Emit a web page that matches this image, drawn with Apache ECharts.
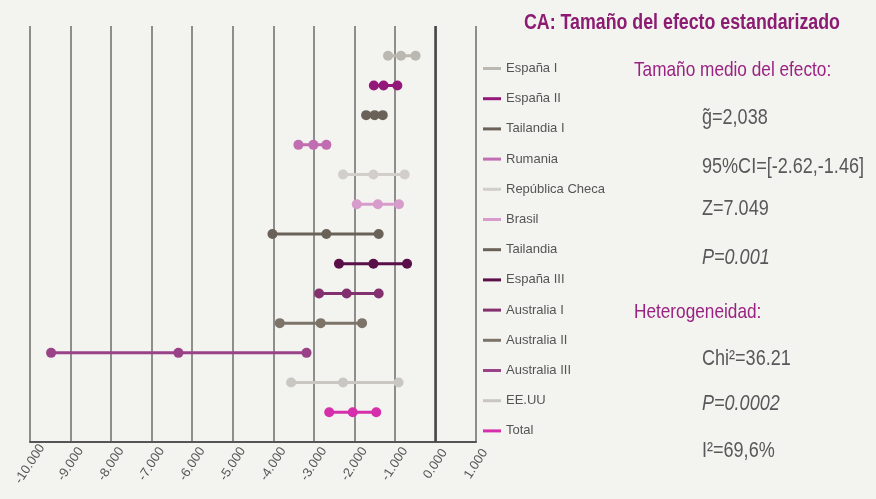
<!DOCTYPE html>
<html>
<head>
<meta charset="utf-8">
<script src="https://cdn.jsdelivr.net/npm/echarts@6/dist/echarts.min.js"></script>
<style>
html,body{margin:0;padding:0;background:#f3f3ef;}
#c{width:876px;height:499px;}
</style>
</head>
<body>
<div id="c"></div>
<script>
const studies = ['España I','España II','Tailandia I','Rumania','República Checa','Brasil','Tailandia','España III','Australia I','Australia II','Australia III','EE.UU','Total'];
const lower  = [-1.17,-1.52,-1.71,-3.38,-2.28,-1.94,-4.02,-2.38,-2.87,-3.84,-9.48,-3.56,-2.62];
const effect = [-0.85,-1.28,-1.50,-3.01,-1.53,-1.42,-2.69,-1.53,-2.19,-2.83,-6.34,-2.28,-2.04];
const upper  = [-0.49,-0.94,-1.30,-2.69,-0.76,-0.90,-1.40,-0.70,-1.40,-1.81,-3.18,-0.91,-1.46];
const colors = ['#bbb8b2','#94187a','#6a6259','#c06db2','#d2cfcb','#d79ccb','#6a6259','#5a0f48','#83306f','#7c7469','#9a4288','#cac7c3','#d62fac'];
const tickValues = [-10,-9,-8,-7,-6,-5,-4,-3,-2,-1,0,1];
const tickLabels = ['-10.000','-9.000','-8.000','-7.000','-6.000','-5.000','-4.000','-3.000','-2.000','-1.000','0.000','1.000'];
const titleText = 'CA: Tamaño del efecto estandarizado';
const sectionHeads = ['Tamaño medio del efecto:','Heterogeneidad:'];
const statTexts = ['g\u0303=2,038','95%CI=[-2.62,-1.46]','Z=7.049','P=0.001','Chi²=36.21','P=0.0002','I²=69,6%'];

const FONT = "'Liberation Sans',Arial,sans-serif";
const chart = echarts.init(document.getElementById('c'), null, {renderer:'canvas'});

const series = studies.map((name,i)=>({
  name: name,
  type: 'line',
  color: colors[i],
  data: [[lower[i], i+1],[effect[i], i+1],[upper[i], i+1]],
  symbol: 'circle',
  symbolSize: 10,
  showSymbol: true,
  lineStyle: {width: 3, color: colors[i]},
  itemStyle: {color: colors[i]},
  animation: false,
  z: 3
}));
series[0].markLine = {
  silent: true,
  symbol: ['none','none'],
  label: {show:false},
  lineStyle: {color:'#474747', width:2.5, type:'solid'},
  data: [{xAxis: 0}],
  animation: false,
  z: 2
};

const SX = 0.82;
const statY = [118,167,209,258,359,404,451];
const statItalic = [false,false,false,true,false,true,false];
function txt(str, x, y, font, fill){
  return {type:'text', x:x, y:y, scaleX:SX, scaleY:1, z:10,
    style:{text:str, font:font, fill:fill, align:'left', verticalAlign:'middle'}};
}
const graphics = [
  txt(titleText, 524, 23, "bold 21.7px "+FONT, '#8c1b72'),
  txt(sectionHeads[0], 634, 70, "21px "+FONT, '#9a2282'),
  txt(sectionHeads[1], 634, 312, "21px "+FONT, '#9a2282')
];
statTexts.forEach((t,i)=>{
  graphics.push(txt(t, 702, statY[i], (statItalic[i]?'italic ':'')+"22px "+FONT, '#58585a'));
});

chart.setOption({
  backgroundColor:'#f3f3ef',
  animation:false,
  grid:{left:30, right:400, top:26, bottom:57, containLabel:false, outerBoundsMode:'none'},
  xAxis:{
    type:'value', min:-10, max:1, interval:1,
    axisLine:{show:true, onZero:false, lineStyle:{color:'#555', width:2}},
    axisTick:{show:false},
    splitLine:{show:true, lineStyle:{color:'#8d8d8b', width:2}},
    axisLabel:{
      rotate:57, margin:22, align:'center', verticalAlign:'middle',
      color:'#555', fontFamily:FONT, fontSize:13,
      formatter:(v)=>{const k=tickValues.indexOf(Math.round(v)); return k>=0?tickLabels[k]:'';}
    }
  },
  yAxis:{
    type:'value', min:0, max:14, inverse:true, show:false,
    splitLine:{show:false}
  },
  legend:{
    orient:'vertical', left:483, top:60.5, padding:0,
    icon:'rect', itemWidth:18, itemHeight:3, itemGap:14.2,
    selectedMode:false,
    textStyle:{color:'#555', fontFamily:FONT, fontSize:13, lineHeight:16},
    data: studies
  },
  graphic: graphics,
  series: series
});
</script>
</body>
</html>
